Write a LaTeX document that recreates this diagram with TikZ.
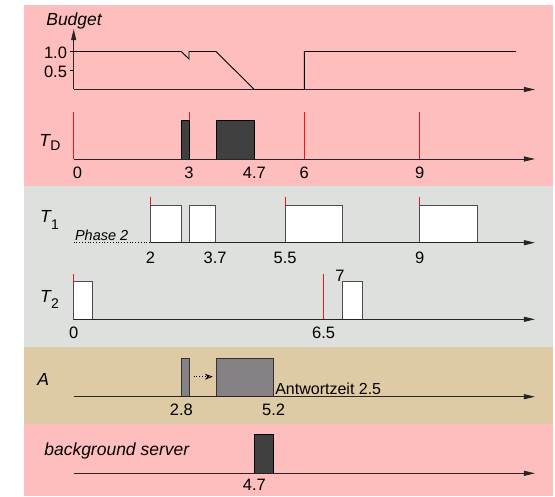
\documentclass[tikz,border=0pt]{standalone}
\usepackage{fontspec}
\setmainfont{Liberation Sans}
\usetikzlibrary{arrows.meta}

\definecolor{bandpink}{RGB}{255,190,190}
\definecolor{bandgray}{RGB}{221,224,220}
\definecolor{bandtan}{RGB}{222,202,165}
\definecolor{execdark}{RGB}{64,64,64}
\definecolor{execgray}{RGB}{134,129,132}
\definecolor{deadred}{RGB}{240,20,20}

% task name with a lowered subscript
\newcommand{\taskname}[2]{\textit{T}\kern0.3pt\raisebox{#2}{\fontsize{14}{14}\selectfont\upshape #1}}

\begin{document}
\begin{tikzpicture}[x=38.44pt, y=1pt, >={Triangle[length=11pt,width=5pt]},
  timeaxis/.style={line width=0.9pt, draw=black!85, ->},
  darkjob/.style={fill=execdark, draw=black, line width=0.8pt},
  whitejob/.style={fill=white, draw=black!70, line width=0.9pt},
  grayjob/.style={fill=execgray, draw=black!80, line width=0.8pt},
  deadline/.style={draw=deadred, line width=1pt},
  num/.style={font=\fontsize{16.5}{18}\selectfont, inner sep=0pt},
  rowlabel/.style={font=\fontsize{17.5}{20}\selectfont\itshape, inner sep=0pt, anchor=west}]

\useasboundingbox (-1.917,0) rectangle (12.521,496);

% Background bands
\fill[bandpink] (-1.293,310) rectangle (12.47,491);
\fill[bandgray] (-1.293,149) rectangle (12.47,310);
\fill[bandtan]  (-1.293,72)  rectangle (12.47,149);
\fill[bandpink] (-1.293,0)   rectangle (12.47,72);

% Budget of the deferrable server
\begin{scope}[yshift=406.5pt, y=38pt]
  \draw[timeaxis] (0,0) -- (12,0);
  \draw[timeaxis] (0,0) -- (0,1.59);
  \draw[line width=0.9pt] (-0.1,1) -- (0,1) (-0.1,0.5) -- (0,0.5);
  \node[num, anchor=east] (b-one) at (-0.17,0.97) {1.0};
  \node[num, anchor=east] (b-half) at (-0.17,0.47) {0.5};
  \node[font=\fontsize{17.5}{20}\selectfont\itshape, inner sep=0pt, anchor=base] (b-label) at (0.01,1.697) {Budget};
  \draw[line width=0.9pt] (0,1) -- (2.8,1) -- (3,0.8) -- (3,1) -- (3.7,1)
    -- (4.7,0) -- (6,0) -- (6,1) -- (11.5,1);
\end{scope}

% Server task T_D
\begin{scope}[yshift=337pt]
  \foreach \t in {0,3,6,9}
    \draw[deadline] (\t,0) -- (\t,46.7);
  \draw[darkjob] (2.8,0) rectangle (3,39);
  \draw[darkjob] (3.7,0) rectangle (4.7,39);
  \draw[timeaxis] (0,0) -- (12,0);
  \foreach \t/\s/\n in {0.1/0/td-a, 3/3/td-b, 4.7/4.7/td-c, 6/6/td-d, 9/9/td-e}
    \node[num] (\n) at (\t,-14.3) {\s};
  \node[rowlabel] (td-label) at (-0.9,16.5) {\taskname{D}{-4pt}};
\end{scope}

% Task T_1
\begin{scope}[yshift=253.3pt]
  \draw[dotted, line width=0.8pt] (0,0) -- (2,0);
  \foreach \a/\b in {2/2.8, 3/3.7, 5.5/7, 9/10.5}
    \draw[whitejob] (\a,0) rectangle (\b,37.7);
  \foreach \t in {2,5.5,9}
    \draw[deadline] (\t,38.2) -- (\t,46);
  \draw[timeaxis] (2,0) -- (12,0);
  \foreach \t/\s/\n in {2/2/ta-a, 3.68/3.7/ta-b, 5.5/5.5/ta-c, 9/9/ta-d}
    \node[num] (\n) at (\t,-14.8) {\s};
  \node[rowlabel] (ta-label) at (-0.88,22.7) {\taskname{1}{-7pt}};
  \node[font=\fontsize{14.5}{16}\selectfont\itshape, inner sep=0pt, anchor=base west] (phase) at (0.03,2.7) {Phase 2};
\end{scope}

% Task T_2
\begin{scope}[yshift=176.7pt]
  \draw[whitejob] (0,0) rectangle (0.5,38.3);
  \draw[whitejob] (7,0) rectangle (7.5,38.3);
  \draw[deadline] (0,38.8) -- (0,45.3);
  \draw[deadline] (6.5,0) -- (6.5,45.3);
  \draw[timeaxis] (0,0) -- (12,0);
  \node[num] (tb-a) at (0,-13.2) {0};
  \node[num] (tb-b) at (6.5,-13.2) {6.5};
  \node[num] (tb-c) at (6.93,43.6) {7};
  \node[rowlabel] (tb-label) at (-0.88,20.3) {\taskname{2}{-6pt}};
\end{scope}

% Aperiodic request A
\begin{scope}[yshift=99.3pt]
  \draw[grayjob] (2.8,0) rectangle (3,38.6);
  \draw[grayjob] (3.7,0) rectangle (5.2,38.6);
  \coordinate (a-run1) at (3.12,20);
  \coordinate (a-run2) at (3.62,20);
  \draw[dotted, line width=0.8pt, -{Stealth[open, length=8pt, width=6pt]}] (a-run1) -- (a-run2);
  \draw[timeaxis] (0,0) -- (12,0);
  \node[font=\fontsize{16}{18}\selectfont, inner sep=0pt, anchor=base west] (a-resp) at (5.24,2.4) {Antwortzeit 2.5};
  \node[num] (a-a) at (2.8,-13.3) {2.8};
  \node[num] (a-b) at (5.2,-13.3) {5.2};
  \node[rowlabel] (a-label) at (-0.95,17.7) {A};
\end{scope}

% Background server
\begin{scope}[yshift=22.7pt]
  \draw[darkjob] (4.7,0) rectangle (5.2,39);
  \draw[timeaxis] (0,0) -- (12,0);
  \node[num] (bg-a) at (4.7,-11.7) {4.7};
  \node[rowlabel, anchor=base west] (bg-label) at (-0.77,18.3) {background server};
\end{scope}
\end{tikzpicture}
\end{document}
